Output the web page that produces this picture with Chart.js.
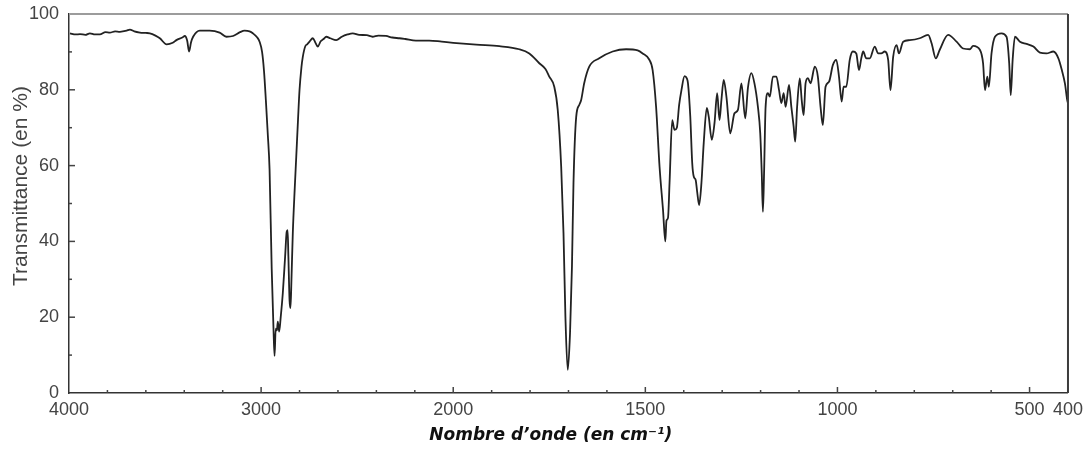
<!DOCTYPE html>
<html lang="fr">
<head>
    <meta charset="UTF-8">
    <title>Spectre IR</title>
    <script src="https://cdn.jsdelivr.net/npm/chart.js"></script>
    <style>
        body {
            margin: 0;
            background-color: #ffffff;
        }
        .chart-wrapper {
            width: 1089px;
            height: 450px;
        }
    </style>
</head>
<body>
    <div class="chart-wrapper">
        <canvas id="irChart"></canvas>
    </div>

<script>
// spectrum (wavenumber in cm-1, transmittance in %)
const wavenumbers = [
    3995, 3965, 3943, 3915, 3891, 3865, 3839, 3810, 3787, 3760, 3735, 3700, 3683, 3660, 3631, 3600,
    3579, 3550, 3527, 3492, 3460, 3441, 3410, 3397, 3385, 3375, 3365, 3354, 3319, 3268, 3216, 3181,
    3146, 3110, 3086, 3060, 3043, 3020, 3008, 2995, 2985, 2975, 2965, 2956, 2945, 2935, 2930, 2924,
    2918, 2913, 2906, 2898, 2887, 2875, 2867, 2862, 2858, 2852, 2847, 2842, 2835, 2825, 2817, 2808,
    2800, 2790, 2783, 2770, 2760, 2748, 2731, 2718, 2705, 2690, 2675, 2661, 2640, 2609, 2580, 2550,
    2523, 2490, 2450, 2420, 2390, 2350, 2317, 2280, 2250, 2194, 2125, 2060, 2000,
    1940, 1880, 1828, 1802, 1776, 1760, 1750, 1737, 1728, 1719, 1713, 1708, 1702, 1696, 1691, 1687,
    1680, 1672, 1667, 1659, 1646, 1620, 1585, 1550, 1520, 1507, 1490, 1481, 1472, 1463, 1454, 1448,
    1445, 1441, 1437, 1430, 1424, 1418, 1412, 1406, 1398, 1392, 1389, 1383, 1378, 1374, 1369, 1365,
    1360, 1354, 1348, 1340, 1335, 1327, 1320, 1313, 1307, 1302, 1296, 1289, 1279, 1268, 1259, 1250,
    1240, 1233, 1224, 1216, 1207, 1201, 1197, 1194, 1191, 1187, 1181, 1176, 1168, 1159, 1152, 1146,
    1140, 1135, 1126, 1120, 1114, 1110, 1105, 1098, 1093, 1088, 1083, 1077, 1070, 1059, 1051, 1044,
    1038, 1031, 1022, 1012, 1003, 996, 989, 984, 977, 968, 960, 951, 944, 938, 933, 925,
    916, 903, 894, 886, 877, 868, 862, 855, 846, 840, 829, 812, 786, 764, 755, 744,
    734, 712, 690, 673, 655, 647, 629, 621, 616, 610, 606, 599, 590, 573, 560, 553,
    549, 544, 538, 525, 508, 490, 473, 456, 438, 425, 416, 408, 402, 400
];
const transmittance = [
    94.9, 94.6, 94.7, 94.5, 94.9, 94.6, 94.6, 95.2, 95.1, 95.4, 95.3, 95.6, 95.9, 95.4, 95.1, 95.0,
    94.9, 94.3, 93.6, 92.0, 92.4, 93.1, 93.8, 94.2, 93.0, 90.1, 92.5, 94.0, 95.6, 95.6, 95.1, 94.0,
    94.2, 95.2, 95.6, 95.4, 94.9, 93.8, 92.7, 90.0, 85.0, 77.0, 68.0, 59.0, 33.0, 16.0, 9.8, 17.0,
    16.5, 18.8, 16.2, 20.0, 26.4, 36.0, 42.5, 43.0, 36.0, 24.5, 22.4, 30.0, 42.2, 54.0, 62.4, 72.0,
    80.0, 86.0, 88.7, 91.5, 92.0, 92.7, 93.6, 92.5, 91.4, 92.8, 93.4, 94.0, 93.6, 93.1, 94.0, 94.6,
    94.9, 94.5, 94.4, 94.0, 94.3, 94.2, 93.8, 93.6, 93.4, 93.0, 93.0, 92.7, 92.4,
    91.9, 91.5, 90.7, 89.6, 87.0, 85.5, 83.5, 80.8, 74.7, 59.7, 42.2, 20.1, 6.1, 15.8, 33.3, 55.4,
    72.8, 76.0, 77.3, 81.8, 86.1, 88.3, 90.1, 90.7, 90.4, 89.6, 88.0, 85.2, 75.5, 59.7, 48.3, 40.0,
    45.5, 46.2, 55.4, 72.0, 69.4, 70.0, 76.0, 79.9, 83.6, 83.0, 81.7, 72.9, 60.7, 57.1, 56.2, 53.0,
    49.6, 55.4, 66.0, 75.2, 72.9, 66.8, 71.2, 79.1, 72.0, 77.3, 82.6, 78.2, 68.5, 73.8, 74.7, 81.7,
    72.5, 80.5, 84.4, 81.7, 75.5, 68.6, 58.0, 47.8, 58.0, 75.5, 79.1, 78.2, 83.5, 83.5, 79.9, 76.5,
    79.1, 75.5, 81.3, 75.5, 70.3, 66.3, 75.5, 83.0, 77.3, 73.3, 81.7, 83.1, 81.7, 86.1, 83.5, 75.5,
    70.7, 80.8, 82.1, 86.5, 87.9, 83.5, 76.9, 80.8, 80.8, 87.9, 90.1, 89.6, 85.2, 88.3, 90.1, 88.3,
    88.3, 91.4, 89.6, 89.6, 90.1, 87.9, 79.9, 88.7, 91.8, 89.6, 92.7, 93.1, 93.6, 94.5, 92.3, 88.3,
    90.5, 94.5, 92.7, 90.9, 90.7, 91.6, 90.5, 87.0, 79.9, 83.5, 80.8, 89.6, 94.0, 94.9, 94.0, 87.0,
    78.6, 87.9, 94.0, 92.7, 92.1, 91.4, 89.8, 89.6, 90.1, 88.3, 85.2, 81.7, 77.3, 76.5
];

// axis ticks
const xTickLabels = [4000, 3000, 2000, 1500, 1000, 500, 400];
const xMajorMarks = [3000, 2000, 1500, 1000, 500];
const xMinorMarks = [3800, 3600, 3400, 3200, 2800, 2600, 2400, 2200,
    1900, 1800, 1700, 1600, 1400, 1300, 1200, 1100, 900, 800, 700, 600];
const yMajorMarks = [20, 40, 60, 80];
const yMinorMarks = [10, 30, 50, 70, 90];

// IR charts use a split axis: 4000-2000 at one scale, 2000-400 stretched x2
class WavenumberScale extends Chart.LinearScale {
    getPixelForValue(value) {
        const pos = value >= 2000 ? 4000 - value : 2000 + 2 * (2000 - value);
        return this.getPixelForDecimal(pos / 5200);
    }
    getValueForPixel(pixel) {
        const pos = this.getDecimalForPixel(pixel) * 5200;
        return pos <= 2000 ? 4000 - pos : 2000 - (pos - 2000) / 2;
    }
}
WavenumberScale.id = 'wavenumber';
WavenumberScale.defaults = {};
Chart.register(WavenumberScale);

const frameAndTicks = {
    id: 'frameAndTicks',
    afterDraw(chart) {
        const { ctx, chartArea: a, scales: { x, y } } = chart;
        const line = (x1, y1, x2, y2) => {
            ctx.beginPath();
            ctx.moveTo(x1, y1);
            ctx.lineTo(x2, y2);
            ctx.stroke();
        };
        ctx.save();
        ctx.lineWidth = 2;
        ctx.strokeStyle = '#9c9c9c';
        line(a.left, a.top, a.right, a.top);
        ctx.strokeStyle = '#3c3c3c';
        line(a.right, a.top, a.right, a.bottom);

        ctx.lineWidth = 1.5;
        ctx.strokeStyle = '#444';
        xMajorMarks.forEach(v => {
            const px = x.getPixelForValue(v);
            line(px, a.bottom, px, a.bottom - 6);
        });
        xMinorMarks.forEach(v => {
            const px = x.getPixelForValue(v);
            line(px, a.bottom, px, a.bottom - 3);
        });
        yMajorMarks.forEach(v => {
            const py = y.getPixelForValue(v);
            line(a.left, py, a.left + 6, py);
        });
        yMinorMarks.forEach(v => {
            const py = y.getPixelForValue(v);
            line(a.left, py, a.left + 3, py);
        });
        ctx.restore();
    }
};

const points = wavenumbers.map((w, i) => ({ x: w, y: transmittance[i] }));

new Chart(document.getElementById('irChart'), {
    type: 'line',
    data: {
        datasets: [{
            data: points,
            borderColor: '#222',
            borderWidth: 1.8,
            pointRadius: 0,
            fill: false,
            cubicInterpolationMode: 'monotone'
        }]
    },
    options: {
        responsive: true,
        maintainAspectRatio: false,
        animation: false,
        layout: {
            padding: { top: 14, right: 21, left: 0, bottom: 0 }
        },
        plugins: {
            legend: { display: false },
            tooltip: { enabled: false }
        },
        scales: {
            x: {
                type: 'wavenumber',
                min: 400,
                max: 4000,
                afterBuildTicks: scale => {
                    scale.ticks = xTickLabels.map(v => ({ value: v }));
                },
                afterFit: scale => { scale.height = 57; },
                grid: { display: false, drawTicks: false },
                border: { display: true, color: '#333', width: 1.5 },
                ticks: {
                    autoSkip: false,
                    maxRotation: 0,
                    minRotation: 0,
                    padding: 6,
                    color: '#444',
                    font: { family: 'Liberation Sans', size: 18 },
                    callback: value => String(value)
                },
                title: {
                    display: true,
                    // trailing spaces nudge the title left, as in the original
                    text: 'Nombre d\u2019onde (en cm\u207B\u00B9)      ',
                    color: '#111',
                    padding: { top: 0, bottom: 4 },
                    font: { family: 'DejaVu Sans', size: 17, weight: 'bold', style: 'italic' }
                }
            },
            y: {
                min: 0,
                max: 100,
                afterFit: scale => {
                    scale.width = 69;
                    scale.paddingTop = 0;
                    scale.paddingBottom = 0;
                },
                grid: { display: false, drawTicks: false },
                border: { display: true, color: '#333', width: 1.5 },
                ticks: {
                    stepSize: 20,
                    padding: 10,
                    color: '#444',
                    font: { family: 'Liberation Sans', size: 18 }
                },
                title: {
                    display: true,
                    // leading spaces lift the title a little, as in the original
                    text: '      Transmittance (en %)',
                    color: '#444',
                    padding: { top: 9, bottom: 0 },
                    font: { family: 'Liberation Sans', size: 21 }
                }
            }
        }
    },
    plugins: [frameAndTicks]
});
</script>
</body>
</html>
